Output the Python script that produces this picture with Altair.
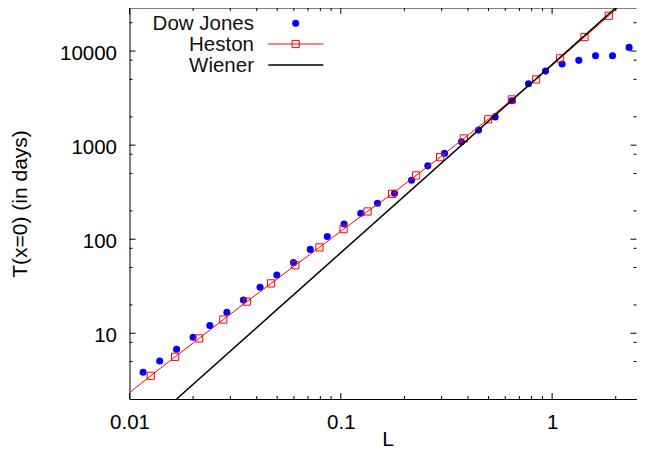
import altair as alt
import pandas as pd

# ---- data ----
dow_L = [0.0116, 0.0139, 0.0167, 0.0200, 0.0240, 0.0289, 0.0346, 0.0415, 0.0498, 0.0597,
         0.0717, 0.0863, 0.1036, 0.1243, 0.1492, 0.1795, 0.2161, 0.2580, 0.3096, 0.3725,
         0.4485, 0.5375, 0.6447, 0.7731, 0.9307, 1.115, 1.338, 1.605, 1.931, 2.314]
dow_T = [3.85, 5.07, 6.76, 9.07, 12.1, 16.7, 22.6, 30.9, 41.7, 56.5,
         77.9, 106.8, 145, 189, 241, 308, 424, 602, 817, 1085,
         1445, 1996, 2960, 4486, 6124, 7275, 7965, 8917, 8917, 10940]

heston_L = [0.01261, 0.01644, 0.02135, 0.02779, 0.03591, 0.04679, 0.06091, 0.07918, 0.1030, 0.1338,
            0.1749, 0.2272, 0.2951, 0.3821, 0.4979, 0.6447, 0.8402, 1.091, 1.423, 1.855]
heston_T = [3.53, 5.62, 8.81, 13.99, 21.7, 33.9, 52.9, 81.8, 127.8, 197.2,
            303.4, 476.5, 745, 1178, 1880, 3060, 4998, 8360, 14090, 23760]
heston_start = (0.01, 2.34)
heston_end = (2.10, 30500)

wiener_L = [0.0167, 2.1]
wiener_T = [2.0, 31750]

x_major = [0.01, 0.1, 1]
x_minor = [0.02, 0.03, 0.04, 0.05, 0.06, 0.07, 0.08, 0.09,
           0.2, 0.3, 0.4, 0.5, 0.6, 0.7, 0.8, 0.9, 2]
y_major = [10, 100, 1000, 10000]
y_minor = [5, 8, 20, 50, 80, 200, 500, 800, 2000, 5000, 8000, 20000]

legend_labels = ["Dow Jones", "Heston", "Wiener"]
x_title = "L"
y_title = "T(x=0) (in days)"

# ---- layout ----
W, H = 507, 391
FONT = "Liberation Sans"
BLUE, RED, BLACK = "#0000ff", "#ff0000", "#000000"

xs = alt.Scale(type="log", domain=[0.01, 2.508], nice=False, zero=False)
ys = alt.Scale(type="log", domain=[2, 28700], nice=False, zero=False)

xaxis = alt.Axis(values=x_major, format="~g", ticks=False, tickSize=0, grid=False,
                 labelPadding=13, labelFlush=False, labelFontSize=20.5, labelFont=FONT,
                 labelColor=BLACK, domainColor=BLACK, domainWidth=1,
                 titleFont=FONT, titleFontSize=21, titleFontWeight="normal", titleColor=BLACK,
                 titleX=258, titleY=46, titleBaseline="alphabetic", titleAlign="center")
yaxis = alt.Axis(values=y_major, format="~g", ticks=False, tickSize=0, grid=False,
                 labelPadding=13, labelFlush=False, labelFontSize=20.5, labelFont=FONT,
                 labelColor=BLACK, domainColor=BLACK, domainWidth=1, labelOffset=2,
                 titleFont=FONT, titleFontSize=21, titleFontWeight="normal", titleColor=BLACK,
                 titleAngle=270, titleX=-103.5, titleY=H / 2, titleBaseline="alphabetic",
                 titleAlign="center")

X = alt.X("L:Q", scale=xs, axis=xaxis, title=x_title)
Y = alt.Y("T:Q", scale=ys, axis=yaxis, title=y_title)

dow_df = pd.DataFrame({"L": dow_L, "T": dow_T})
hes_df = pd.DataFrame({"L": heston_L, "T": heston_T})
hes_line_df = pd.DataFrame({"L": [heston_start[0]] + heston_L + [heston_end[0]],
                            "T": [heston_start[1]] + heston_T + [heston_end[1]]})
wie_df = pd.DataFrame({"L": wiener_L, "T": wiener_T})

dow = alt.Chart(dow_df).mark_circle(size=50, color=BLUE, opacity=1).encode(x=X, y=Y)
hes_line = alt.Chart(hes_line_df).mark_line(color=RED, strokeWidth=1, clip=True).encode(x=X, y=Y)
hes_pts = alt.Chart(hes_df).mark_point(shape="square", filled=False, color=RED, size=52,
                                       strokeWidth=1, opacity=1).encode(x=X, y=Y)
wie = alt.Chart(wie_df).mark_line(color=BLACK, strokeWidth=1.5, clip=True).encode(x=X, y=Y)

# inward ticks (mirrored on all sides)
xmaj_df = pd.DataFrame({"L": x_major})
xmin_df = pd.DataFrame({"L": x_minor})
ymaj_df = pd.DataFrame({"T": y_major})
ymin_df = pd.DataFrame({"T": y_minor})
tick_layers = []
for df, ln in [(xmaj_df, 6), (xmin_df, 3)]:
    tick_layers.append(alt.Chart(df).mark_rule(color=BLACK, strokeWidth=1)
                       .encode(x=X, y=alt.value(H), y2=alt.value(H - ln)))
    tick_layers.append(alt.Chart(df).mark_rule(color=BLACK, strokeWidth=1)
                       .encode(x=X, y=alt.value(0), y2=alt.value(ln)))
for df, ln in [(ymaj_df, 6), (ymin_df, 3)]:
    tick_layers.append(alt.Chart(df).mark_rule(color=BLACK, strokeWidth=1)
                       .encode(y=Y, x=alt.value(0), x2=alt.value(ln)))
    tick_layers.append(alt.Chart(df).mark_rule(color=BLACK, strokeWidth=1)
                       .encode(y=Y, x=alt.value(W), x2=alt.value(W - ln)))

one = pd.DataFrame({"a": [0]})
top_border = alt.Chart(one).mark_rule(color=BLACK, strokeWidth=1).encode(
    x=alt.value(0), x2=alt.value(W), y=alt.value(0))

# legend (gnuplot style: text right-aligned, sample to the right)
leg_text_x = 124.5
leg_text_y = [22, 42.8, 63.6]
leg_sym_x = 166.2
leg_sym_y = [15.3, 36, 57]
leg_line_x = (138.8, 193.8)
legend = []
for lab, ty in zip(legend_labels, leg_text_y):
    legend.append(alt.Chart(pd.DataFrame({"t": [lab]})).mark_text(
        align="right", baseline="alphabetic", font=FONT, fontSize=20.5, color="#111111")
        .encode(text="t:N", x=alt.value(leg_text_x), y=alt.value(ty)))
legend.append(alt.Chart(one).mark_circle(size=50, color=BLUE, opacity=1)
              .encode(x=alt.value(leg_sym_x), y=alt.value(leg_sym_y[0])))
legend.append(alt.Chart(one).mark_rule(color=RED, strokeWidth=1)
              .encode(x=alt.value(leg_line_x[0]), x2=alt.value(leg_line_x[1]), y=alt.value(leg_sym_y[1])))
legend.append(alt.Chart(one).mark_point(shape="square", filled=False, color=RED, size=52,
                                        strokeWidth=1, opacity=1)
              .encode(x=alt.value(leg_sym_x), y=alt.value(leg_sym_y[1])))
legend.append(alt.Chart(one).mark_rule(color=BLACK, strokeWidth=1.5)
              .encode(x=alt.value(leg_line_x[0]), x2=alt.value(leg_line_x[1]), y=alt.value(leg_sym_y[2])))

chart = alt.layer(dow, hes_line, hes_pts, wie, *tick_layers, top_border, *legend).properties(
    width=W, height=H,
    autosize=alt.AutoSizeParams(type="none"),
    padding={"left": 121.5, "top": 0, "right": 0, "bottom": 51},
    background="white",
).configure_view(stroke=None)

chart.save("out.html", embed_options={"renderer": "svg", "actions": False})
